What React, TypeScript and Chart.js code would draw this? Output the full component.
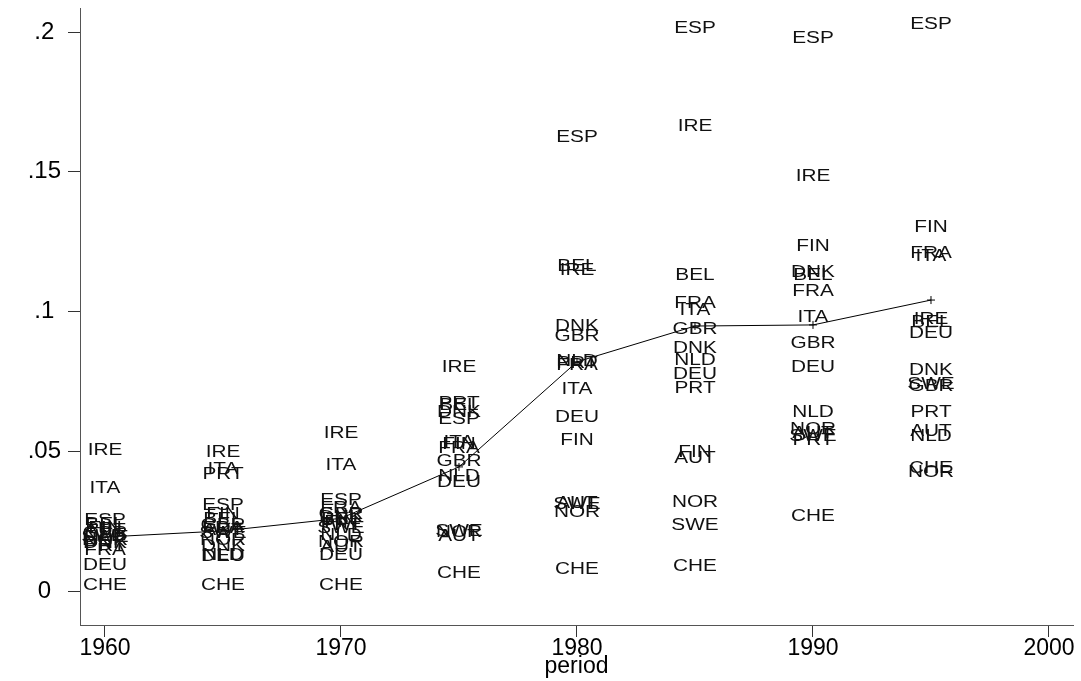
import React, { useEffect, useRef } from "react";
import { Chart, registerables } from "chart.js";

Chart.register(...registerables);

// ---- data ----
const periods = [1960, 1965, 1970, 1975, 1980, 1985, 1990, 1995];
const countries = ["AUT", "BEL", "CHE", "DEU", "DNK", "ESP", "FIN", "FRA", "GBR", "IRE", "ITA", "NLD", "NOR", "PRT", "SWE"];

const AUT = [0.0215, 0.0215, 0.0157, 0.0193, 0.0312, 0.0472, 0.0562, 0.0569];
const BEL = [0.0238, 0.0255, 0.0255, 0.0665, 0.1159, 0.1127, 0.1127, 0.0962];
const CHE = [0.0021, 0.0021, 0.0021, 0.0061, 0.0075, 0.0089, 0.0265, 0.0437];
const DEU = [0.009, 0.0122, 0.0128, 0.0388, 0.0619, 0.0773, 0.0798, 0.092];
const DNK = [0.017, 0.016, 0.0262, 0.0637, 0.0945, 0.0869, 0.1141, 0.079];
const ESP = [0.0253, 0.0305, 0.0322, 0.0612, 0.1624, 0.2014, 0.1975, 0.2025];
const FIN = [0.0225, 0.0275, 0.0243, 0.0525, 0.0537, 0.0494, 0.1231, 0.1302];
const FRA = [0.0143, 0.0225, 0.0295, 0.0508, 0.0808, 0.103, 0.107, 0.1206];
const GBR = [0.0205, 0.0235, 0.0275, 0.0462, 0.0909, 0.0934, 0.0884, 0.0733];
const IRE = [0.0504, 0.0494, 0.0565, 0.0798, 0.1145, 0.166, 0.1481, 0.097];
const ITA = [0.0365, 0.0435, 0.0447, 0.0532, 0.0719, 0.1005, 0.098, 0.1195];
const NLD = [0.0195, 0.0128, 0.02, 0.0408, 0.0822, 0.0823, 0.064, 0.0551];
const NOR = [0.018, 0.018, 0.0172, 0.0208, 0.0282, 0.0315, 0.0576, 0.0422];
const PRT = [0.016, 0.0415, 0.0235, 0.0672, 0.0812, 0.0723, 0.0537, 0.0637];
const SWE = [0.019, 0.0205, 0.0225, 0.0212, 0.0308, 0.0233, 0.0551, 0.0737];

const countrySeries = [AUT, BEL, CHE, DEU, DNK, ESP, FIN, FRA, GBR, IRE, ITA, NLD, NOR, PRT, SWE];

const meanValues = [0.0193, 0.0215, 0.026, 0.0444, 0.082, 0.0948, 0.0952, 0.1041];

const xTicks = [1960, 1970, 1980, 1990, 2000];
const yTicks = [0, 0.05, 0.1, 0.15, 0.2];
const yTickLabels = ["0", ".05", ".1", ".15", ".2"];

const SANS = "'Liberation Sans', Arial, Helvetica, sans-serif";

const labelPlugin = {
  id: "countryLabels",
  afterDatasetsDraw(chart: any) {
    const ctx = chart.ctx;
    ctx.save();
    ctx.font = "16px " + SANS;
    ctx.fillStyle = "#111";
    ctx.textAlign = "center";
    ctx.textBaseline = "middle";
    chart.data.datasets.forEach((ds: any, i: number) => {
      if (!ds.isCountry) return;
      const meta = chart.getDatasetMeta(i);
      meta.data.forEach((el: any) => {
        ctx.save();
        ctx.translate(el.x, el.y);
        ctx.scale(1.3, 1);
        ctx.fillText(ds.label, 0, 0);
        ctx.restore();
      });
    });
    ctx.restore();
  },
};

const zeroPadding = (scale: any) => {
  scale.paddingTop = 0;
  scale.paddingBottom = 0;
  scale.paddingLeft = 0;
  scale.paddingRight = 0;
};

export default function App() {
  const ref = useRef<HTMLCanvasElement | null>(null);

  useEffect(() => {
    if (!ref.current) return;
    const countryDatasets = countries.map((c, ci) => ({
      type: "scatter" as const,
      label: c,
      isCountry: true,
      data: periods.map((p, pi) => ({ x: p, y: countrySeries[ci][pi] })),
      pointRadius: 0,
      pointHoverRadius: 0,
      showLine: false,
    }));
    const meanDataset = {
      type: "line" as const,
      label: "mean",
      data: periods.map((p, pi) => ({ x: p, y: meanValues[pi] })),
      borderColor: "#000",
      borderWidth: 1,
      pointStyle: "cross",
      pointRadius: 4,
      pointBorderWidth: 1,
      pointBorderColor: "#000",
      fill: false,
      tension: 0,
    };

    const chart = new Chart(ref.current, {
      type: "scatter",
      data: { datasets: [...countryDatasets, meanDataset] as any },
      options: {
        responsive: false,
        animation: false,
        devicePixelRatio: 1,
        layout: { padding: { top: 8, right: 8, left: 0, bottom: 0 } },
        plugins: { legend: { display: false }, tooltip: { enabled: false } },
        scales: {
          x: {
            type: "linear",
            min: 1958.941,
            max: 2001.017,
            afterBuildTicks: (scale: any) => {
              scale.ticks = xTicks.map((v) => ({ value: v }));
            },
            afterFit: (scale: any) => {
              scale.height = 56;
              zeroPadding(scale);
            },
            ticks: {
              color: "#000",
              font: { size: 23, family: SANS },
              padding: -2,
              maxRotation: 0,
              callback: (v: any) => String(v),
            },
            grid: { drawOnChartArea: false, drawTicks: true, tickLength: 12, color: "#333", lineWidth: 1 },
            border: { display: true, color: "#555", width: 1 },
            title: {
              display: true,
              text: "period",
              color: "#000",
              font: { size: 23, family: SANS },
              padding: { top: 0, bottom: 1 },
            },
          },
          y: {
            type: "linear",
            min: -0.01216,
            max: 0.20859,
            afterBuildTicks: (scale: any) => {
              scale.ticks = yTicks.map((v) => ({ value: v }));
            },
            afterFit: (scale: any) => {
              scale.width = 80;
              zeroPadding(scale);
            },
            ticks: {
              color: "#000",
              font: { size: 24, family: SANS },
              padding: 7,
              crossAlign: "center",
              callback: (v: any) => {
                const idx = yTicks.indexOf(v);
                return idx >= 0 ? yTickLabels[idx] : "";
              },
            },
            grid: { drawOnChartArea: false, drawTicks: true, tickLength: 12, color: "#333", lineWidth: 1 },
            border: { display: true, color: "#555", width: 1 },
          },
        },
      } as any,
      plugins: [labelPlugin],
    });
    return () => chart.destroy();
  }, []);

  return (
    <div style={{ position: "absolute", left: 0, top: 0, width: 1081, height: 681, background: "#fff" }}>
      <canvas ref={ref} width={1081} height={681} style={{ display: "block" }} />
    </div>
  );
}
